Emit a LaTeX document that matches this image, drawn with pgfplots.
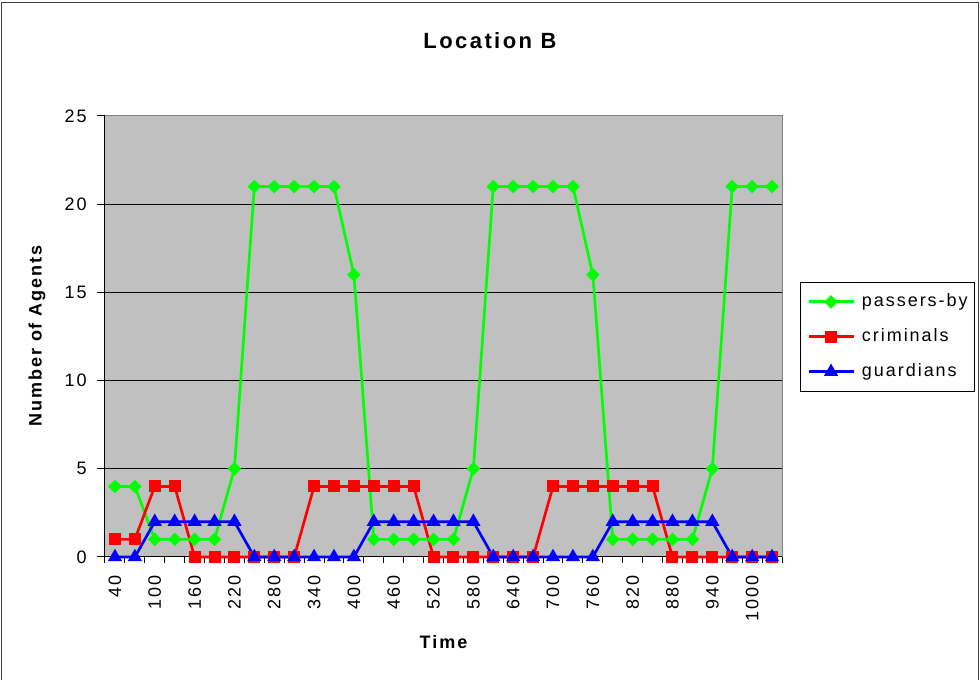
\documentclass[border=0pt]{standalone}
\usepackage{fontspec}
\setmainfont{Liberation Sans}
\newfontfamily\lsfont[LetterSpace=11]{Liberation Sans}
\usepackage{pgfplots}
\usepackage{pgfplotstable}
\pgfplotsset{compat=1.18}
\definecolor{bggray}{HTML}{C0C0C0}
\definecolor{pgreen}{HTML}{00FF00}
\definecolor{pred}{HTML}{FF0000}
\definecolor{pblue}{HTML}{0000FF}
\pgfplotstableread{
i green red blue
0 4 1 0
1 4 1 0
2 1 4 2
3 1 4 2
4 1 0 2
5 1 0 2
6 5 0 2
7 21 0 0
8 21 0 0
9 21 0 0
10 21 4 0
11 21 4 0
12 16 4 0
13 1 4 2
14 1 4 2
15 1 4 2
16 1 0 2
17 1 0 2
18 5 0 2
19 21 0 0
20 21 0 0
21 21 0 0
22 21 4 0
23 21 4 0
24 16 4 0
25 1 4 2
26 1 4 2
27 1 4 2
28 1 0 2
29 1 0 2
30 5 0 2
31 21 0 0
32 21 0 0
33 21 0 0
}\datatable
\newcommand\tickf{\lsfont\fontsize{13.5}{16}\selectfont}
\newcommand\labf{\lsfont\bfseries\fontsize{13.5}{16}\selectfont}
\newcommand\titf{\lsfont\bfseries\fontsize{16.5}{20}\selectfont}
\begin{document}
\begin{tikzpicture}
\begin{axis}[
  width=507.75pt, height=330.75pt, scale only axis,
  at={(0,0)}, anchor=south west,
  xmin=-0.5, xmax=33.5, ymin=0, ymax=25,
  clip=false,
  axis background/.style={fill=bggray},
  axis line style={draw=none},
  xtick={0,2,...,32},
  xticklabels={40,100,160,220,280,340,400,460,520,580,640,700,760,820,880,940,1000},
  minor xtick={-0.5,0.5,...,33.5},
  ytick={0,5,...,25},
  ymajorgrids,
  grid style={black, line width=0.75pt},
  tick align=outside, xtick pos=bottom, ytick pos=left,
  major tick length=6pt, minor tick length=4.5pt,
  major x tick style={draw=none},
  tick style={black, line width=0.75pt},
  xticklabel style={font=\tickf, rotate=90, anchor=east, inner sep=0pt},
  xticklabel shift=8pt,
  yticklabel style={font=\tickf, inner sep=0pt},
  yticklabel shift=7.5pt,
  /pgf/number format/assume math mode=true,
  legend style={at={(1.0266,0.6236)}, anchor=north west, draw=black, line width=0.75pt,
    fill=white, font=\tickf, inner xsep=5pt, inner ysep=8pt, row sep=13.25pt,
    nodes={inner sep=0pt, text height=10pt, text depth=3pt},
    /tikz/every odd column/.append style={column sep=5.25pt}},
  legend cell align=left,
  legend image code/.code={\draw[mark repeat=2,mark phase=2,#1] plot coordinates {(0pt,0pt) (16.875pt,0pt) (33.75pt,0pt)};},
]
\draw[gray, line width=0.75pt] (rel axis cs:0,1) -- (rel axis cs:1,1) -- (rel axis cs:1,0);
\draw[black, line width=0.75pt] (rel axis cs:0,1) -- (rel axis cs:0,0) -- (rel axis cs:1,0);
\addplot[pgreen, line width=2pt, mark=square*, mark size=2.6pt, mark options={rotate=45, solid, fill=pgreen, draw=pgreen}] table[x=i, y=green] {\datatable};
\addlegendentry{passers-by}
\addplot[pred, line width=2pt, mark=square*, mark size=3.5pt, mark options={solid, fill=pred, draw=pred}] table[x=i, y=red] {\datatable};
\addlegendentry{criminals}
\addplot[pblue, line width=2pt, mark=triangle*, mark size=4.2pt, mark options={solid, fill=pblue, draw=pblue}] table[x=i, y=blue] {\datatable};
\addlegendentry{guardians}
\end{axis}
\begin{scope}[x=0.75pt, y=-0.75pt, shift={(-105,-557)}]
\node[font=\titf] at (490,41) {Location B};
\node[font=\labf, rotate=90] at (37,336) {Number of Agents};
\node[font=\labf] at (443.5,642) {Time};
\draw[line width=1.1pt, black!75] (1.5,681) -- (1.5,2.5) -- (978.5,2.5) -- (978.5,681);
\pgfresetboundingbox
\path[use as bounding box] (0,0) rectangle (980,680);
\end{scope}
\end{tikzpicture}
\end{document}
